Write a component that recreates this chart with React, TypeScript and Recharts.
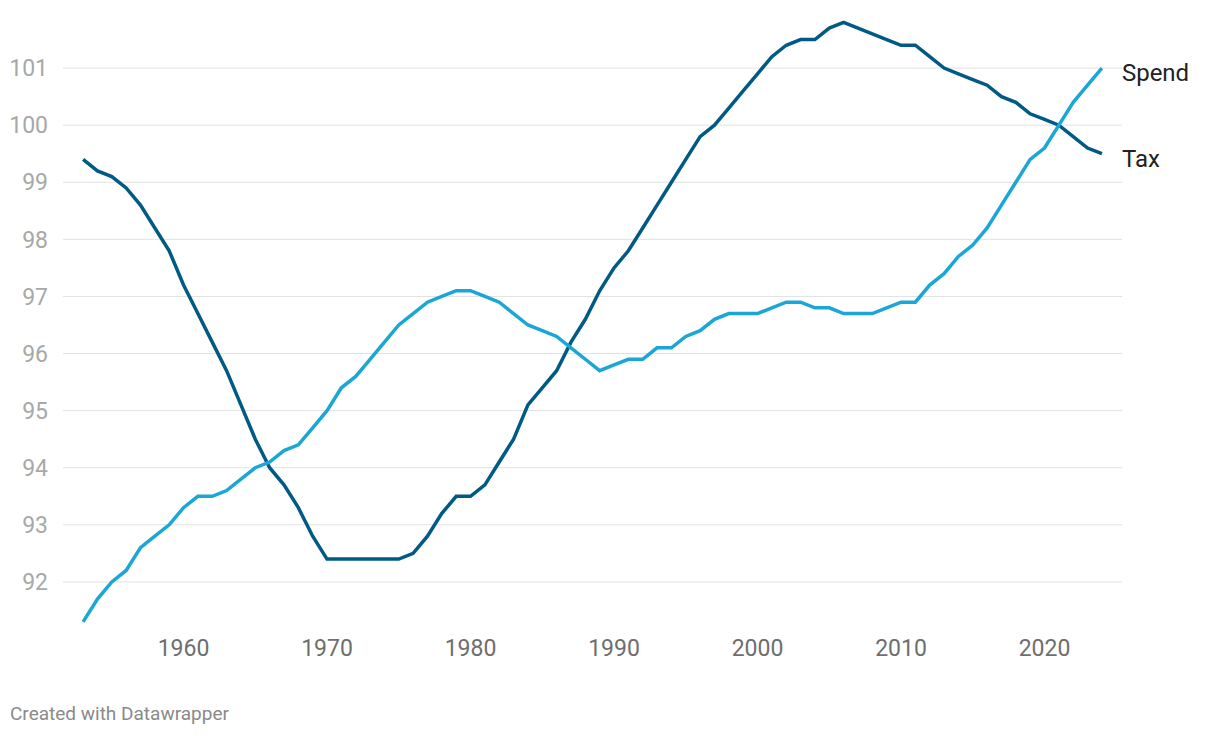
import { LineChart, Line, XAxis, YAxis, CartesianGrid } from "recharts";

const years = [
  1953, 1954, 1955, 1956, 1957, 1958, 1959, 1960, 1961, 1962, 1963, 1964,
  1965, 1966, 1967, 1968, 1969, 1970, 1971, 1972, 1973, 1974, 1975, 1976,
  1977, 1978, 1979, 1980, 1981, 1982, 1983, 1984, 1985, 1986, 1987, 1988,
  1989, 1990, 1991, 1992, 1993, 1994, 1995, 1996, 1997, 1998, 1999, 2000,
  2001, 2002, 2003, 2004, 2005, 2006, 2007, 2008, 2009, 2010, 2011, 2012,
  2013, 2014, 2015, 2016, 2017, 2018, 2019, 2020, 2021, 2022, 2023, 2024,
];

const tax = [
  99.4, 99.2, 99.1, 98.9, 98.6, 98.2, 97.8, 97.2, 96.7, 96.2, 95.7, 95.1,
  94.5, 94.0, 93.7, 93.3, 92.8, 92.4, 92.4, 92.4, 92.4, 92.4, 92.4, 92.5,
  92.8, 93.2, 93.5, 93.5, 93.7, 94.1, 94.5, 95.1, 95.4, 95.7, 96.2, 96.6,
  97.1, 97.5, 97.8, 98.2, 98.6, 99.0, 99.4, 99.8, 100.0, 100.3, 100.6, 100.9,
  101.2, 101.4, 101.5, 101.5, 101.7, 101.8, 101.7, 101.6, 101.5, 101.4, 101.4, 101.2,
  101.0, 100.9, 100.8, 100.7, 100.5, 100.4, 100.2, 100.1, 100.0, 99.8, 99.6, 99.5,
];

const spend = [
  91.3, 91.7, 92.0, 92.2, 92.6, 92.8, 93.0, 93.3, 93.5, 93.5, 93.6, 93.8,
  94.0, 94.1, 94.3, 94.4, 94.7, 95.0, 95.4, 95.6, 95.9, 96.2, 96.5, 96.7,
  96.9, 97.0, 97.1, 97.1, 97.0, 96.9, 96.7, 96.5, 96.4, 96.3, 96.1, 95.9,
  95.7, 95.8, 95.9, 95.9, 96.1, 96.1, 96.3, 96.4, 96.6, 96.7, 96.7, 96.7,
  96.8, 96.9, 96.9, 96.8, 96.8, 96.7, 96.7, 96.7, 96.8, 96.9, 96.9, 97.2,
  97.4, 97.7, 97.9, 98.2, 98.6, 99.0, 99.4, 99.6, 100.0, 100.4, 100.7, 101.0,
];

const xTicks = [1960, 1970, 1980, 1990, 2000, 2010, 2020];
const yTicks = [92, 93, 94, 95, 96, 97, 98, 99, 100, 101];

const data = years.map((year, i) => ({ year, tax: tax[i], spend: spend[i] }));

const FONT = "Roboto, 'Noto Sans', sans-serif";

// label drawn only at the last point of a series
const endLabel = (name: string) => (props: any) => {
  const { x, y, index } = props;
  if (index !== data.length - 1) return null;
  return (
    <text x={x + 20} y={y + 13} fontSize={24} fill="#222" fontFamily={FONT}>
      {name}
    </text>
  );
};

export default function App() {
  return (
    <div
      style={{
        position: "relative",
        width: 1220,
        height: 738,
        margin: -8,
        background: "#fff",
        fontFamily: FONT,
      }}
    >
      <LineChart
        width={1220}
        height={700}
        data={data}
        margin={{ top: 11, right: 98, left: 0, bottom: 0 }}
      >
        <CartesianGrid
          vertical={false}
          horizontalValues={yTicks}
          stroke="#e2e2e2"
          strokeWidth={1}
        />
        <XAxis
          dataKey="year"
          type="number"
          domain={[1951.6, 2025.4]}
          ticks={xTicks}
          height={61}
          axisLine={false}
          tickLine={false}
          tickSize={0}
          tickMargin={1}
          tick={{ fill: "#6e6e6e", fontSize: 23, fontFamily: FONT }}
        />
        <YAxis
          type="number"
          domain={[91, 102]}
          ticks={yTicks}
          width={63}
          axisLine={false}
          tickLine={false}
          tickSize={0}
          tickMargin={15}
          tick={{ fill: "#a8a8a8", fontSize: 23, fontFamily: FONT }}
        />
        <Line
          type="linear"
          dataKey="tax"
          stroke="#005a84"
          strokeWidth={3.5}
          dot={false}
          isAnimationActive={false}
          label={endLabel("Tax")}
        />
        <Line
          type="linear"
          dataKey="spend"
          stroke="#1ba7d5"
          strokeWidth={3.5}
          dot={false}
          isAnimationActive={false}
          label={endLabel("Spend")}
        />
      </LineChart>
      <div
        style={{
          position: "absolute",
          left: 10,
          top: 702,
          fontSize: 19,
          color: "#8a8a8a",
        }}
      >
        Created with Datawrapper
      </div>
    </div>
  );
}
